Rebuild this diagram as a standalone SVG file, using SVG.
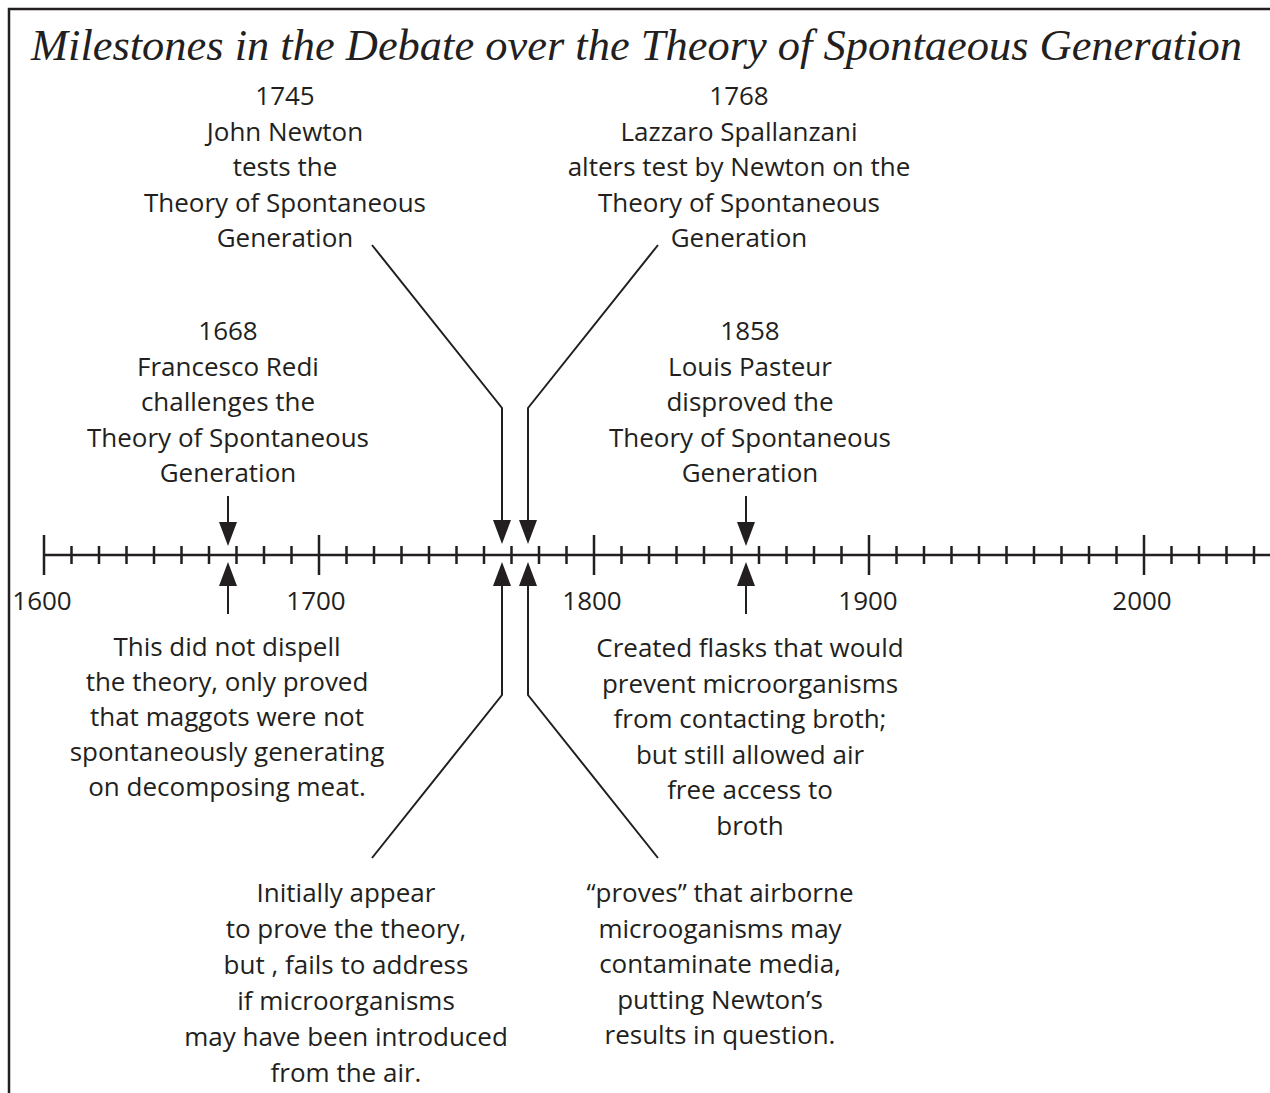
<svg xmlns="http://www.w3.org/2000/svg" width="1270" height="1093" viewBox="0 0 1270 1093">
  <style>
    .title { font-family: "Liberation Serif", "Times New Roman", serif; font-style: italic; font-size: 44px; fill: #231f20; }
    .lbl { font-family: "Open Sans", "Liberation Sans", sans-serif; font-size: 26px; fill: #231f20; text-anchor: middle; }
    .axis { stroke: #231f20; stroke-width: 2.5; fill: none; }
    .conn { stroke: #231f20; stroke-width: 2; fill: none; }
  </style>
  <defs>
    <marker id="head" viewBox="0 0 24 18" refX="0" refY="9" markerWidth="24" markerHeight="18" markerUnits="userSpaceOnUse" orient="auto">
      <path d="M0,0 L24,9 L0,18 Z" fill="#231f20"/>
    </marker>
  </defs>

  <rect width="1270" height="1093" fill="#ffffff"/>

  <!-- frame: open on the right and bottom -->
  <path d="M9,1093 V9 H1270" fill="none" stroke="#231f20" stroke-width="2.5"/>

  <text class="title" x="31" y="60" textLength="1211" lengthAdjust="spacingAndGlyphs">Milestones in the Debate over the Theory of Spontaeous Generation</text>

  <!-- time axis, 27.5px per decade starting at 1600 -->
  <g id="timeline">
    <path class="axis" d="M44,555 H1270"/>
    <path class="axis" d="M44,535 V575 M319,535 V575 M594,535 V575 M869,535 V575 M1144,535 V575"/>
    <path class="axis" d="M71.5,546 V564 M99,546 V564 M126.5,546 V564 M154,546 V564 M181.5,546 V564 M209,546 V564 M236.5,546 V564 M264,546 V564 M291.5,546 V564
      M346.5,546 V564 M374,546 V564 M401.5,546 V564 M429,546 V564 M456.5,546 V564 M484,546 V564 M511.5,546 V564 M539,546 V564 M566.5,546 V564
      M621.5,546 V564 M649,546 V564 M676.5,546 V564 M704,546 V564 M731.5,546 V564 M759,546 V564 M786.5,546 V564 M814,546 V564 M841.5,546 V564
      M896.5,546 V564 M924,546 V564 M951.5,546 V564 M979,546 V564 M1006.5,546 V564 M1034,546 V564 M1061.5,546 V564 M1089,546 V564 M1116.5,546 V564
      M1171.5,546 V564 M1199,546 V564 M1226.5,546 V564 M1254,546 V564"/>
    <text class="lbl" x="42" y="610">1600</text>
    <text class="lbl" x="316" y="610">1700</text>
    <text class="lbl" x="592" y="610">1800</text>
    <text class="lbl" x="868" y="610">1900</text>
    <text class="lbl" x="1142" y="610">2000</text>
  </g>

  <g id="connectors">
    <path class="conn" d="M228,496 V522" marker-end="url(#head)"/>
    <path class="conn" d="M228,614 V586" marker-end="url(#head)"/>
    <path class="conn" d="M372,245 L502,408 V520" marker-end="url(#head)"/>
    <path class="conn" d="M658,245 L528,408 V520" marker-end="url(#head)"/>
    <path class="conn" d="M372,858 L502,695 V586" marker-end="url(#head)"/>
    <path class="conn" d="M658,858 L528,695 V586" marker-end="url(#head)"/>
    <path class="conn" d="M746,496 V522" marker-end="url(#head)"/>
    <path class="conn" d="M746,614 V586" marker-end="url(#head)"/>
  </g>

  <g id="newton-1745">
    <text class="lbl" x="285" y="105">1745</text>
    <text class="lbl" x="285" y="140.5">John Newton</text>
    <text class="lbl" x="285" y="176">tests the</text>
    <text class="lbl" x="285" y="211.5">Theory of Spontaneous</text>
    <text class="lbl" x="285" y="247">Generation</text>
  </g>

  <g id="spallanzani-1768">
    <text class="lbl" x="739" y="105">1768</text>
    <text class="lbl" x="739" y="140.5">Lazzaro Spallanzani</text>
    <text class="lbl" x="739" y="176">alters test by Newton on the</text>
    <text class="lbl" x="739" y="211.5">Theory of Spontaneous</text>
    <text class="lbl" x="739" y="247">Generation</text>
  </g>

  <g id="redi-1668">
    <text class="lbl" x="228" y="340">1668</text>
    <text class="lbl" x="228" y="375.5">Francesco Redi</text>
    <text class="lbl" x="228" y="411">challenges the</text>
    <text class="lbl" x="228" y="446.5">Theory of Spontaneous</text>
    <text class="lbl" x="228" y="482">Generation</text>
  </g>

  <g id="pasteur-1858">
    <text class="lbl" x="750" y="340">1858</text>
    <text class="lbl" x="750" y="375.5">Louis Pasteur</text>
    <text class="lbl" x="750" y="411">disproved the</text>
    <text class="lbl" x="750" y="446.5">Theory of Spontaneous</text>
    <text class="lbl" x="750" y="482">Generation</text>
  </g>

  <g id="redi-note">
    <text class="lbl" x="227" y="656">This did not dispell</text>
    <text class="lbl" x="227" y="691">the theory, only proved</text>
    <text class="lbl" x="227" y="726">that maggots were not</text>
    <text class="lbl" x="227" y="761">spontaneously generating</text>
    <text class="lbl" x="227" y="796">on decomposing meat.</text>
  </g>

  <g id="pasteur-note">
    <text class="lbl" x="750" y="657">Created flasks that would</text>
    <text class="lbl" x="750" y="692.5">prevent microorganisms</text>
    <text class="lbl" x="750" y="728">from contacting broth;</text>
    <text class="lbl" x="750" y="763.5">but still allowed air</text>
    <text class="lbl" x="750" y="799">free access to</text>
    <text class="lbl" x="750" y="834.5">broth</text>
  </g>

  <g id="newton-note">
    <text class="lbl" x="346" y="902">Initially appear</text>
    <text class="lbl" x="346" y="938">to prove the theory,</text>
    <text class="lbl" x="346" y="974">but , fails to address</text>
    <text class="lbl" x="346" y="1010">if microorganisms</text>
    <text class="lbl" x="346" y="1046">may have been introduced</text>
    <text class="lbl" x="346" y="1082">from the air.</text>
  </g>

  <g id="spallanzani-note">
    <text class="lbl" x="720" y="902">“proves” that airborne</text>
    <text class="lbl" x="720" y="937.5">microoganisms may</text>
    <text class="lbl" x="720" y="973">contaminate media,</text>
    <text class="lbl" x="720" y="1008.5">putting Newton’s</text>
    <text class="lbl" x="720" y="1044">results in question.</text>
  </g>
</svg>
